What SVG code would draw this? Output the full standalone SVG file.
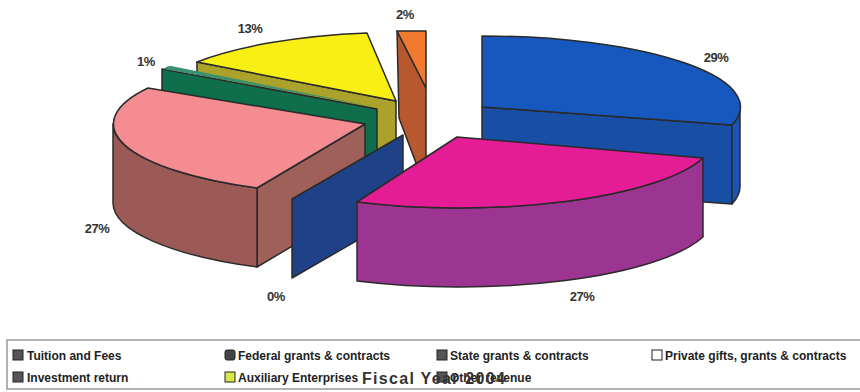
<svg xmlns="http://www.w3.org/2000/svg" width="860" height="392" viewBox="0 0 860 392">
<style>
.s{stroke:#2a2a2a;stroke-width:1.5;stroke-linejoin:round}
.lbl{font-family:"Liberation Sans",Arial,sans-serif;font-weight:bold;font-size:13px;fill:#333;text-anchor:middle;letter-spacing:-0.5px}
.lg{font-family:"Liberation Sans",Arial,sans-serif;font-weight:bold;font-size:12px;fill:#222}
.sw{stroke:#222;stroke-width:1}
</style>
<rect width="860" height="392" fill="#fff"/>
<g id="slice-tuition">
<path class="s" fill="#194ea5" d="M482,107 L732,125 L732,204 L482,186 Z"/>
<path class="s" fill="#1a55b5" d="M740,107 A258,71 0 0 1 732,125 L732,204 A258,71 0 0 0 740,186 Z"/>
<path class="s" fill="#1658be" d="M482,107 L482,36 A258,71 0 0 1 732,125 Z"/>
</g>
<g id="slice-other">
<path class="s" fill="#b8582e" d="M397,31 L426,88 L426,165 L416,163 L399,118 Z"/>
<path class="s" fill="#f07a30" d="M397,31 L426,31 L426,88 Z"/>
</g>
<g id="slice-auxiliary">
<path class="s" fill="#aaa22a" d="M197,62 L396,101 L396,180 L197,141 Z"/>
<path class="s" fill="#f8f014" d="M396,101 L197,62 A252,71 0 0 1 367,33 Z"/>
</g>
<g id="slice-investment">
<path class="s" fill="#0f6e4b" d="M162,69 L377,109 L377,188 L162,148 Z"/>
<path fill="#3a9070" d="M164,69 Q166,66 171,66 L370,106 Z"/>
</g>
<g id="slice-private">
<path class="s" fill="#a0605a" d="M257,188 L365,124 L365,203 L257,267 Z"/>
<path class="s" fill="#9b5a55" d="M113,124 A252,71 0 0 0 257,188 L257,267 A252,71 0 0 1 113,203 Z"/>
<path class="s" fill="#f58c91" d="M365,124 L148,88 A252,71 0 0 0 257,188 Z"/>
</g>
<g id="slice-state">
<path class="s" fill="#1e4187" d="M403,135 L292,199 L292,278 L403,214 Z"/>
</g>
<g id="slice-federal">
<path class="s" fill="#9c3592" d="M703,158 A255,71 0 0 1 357,202 L357,281 A255,71 0 0 0 703,237 Z"/>
<path class="s" fill="#e41c96" d="M457,137 L703,158 A255,71 0 0 1 357,202 Z"/>
</g>
<g id="labels">
<text class="lbl" x="716" y="62">29%</text>
<text class="lbl" x="250" y="33">13%</text>
<text class="lbl" x="146" y="66">1%</text>
<text class="lbl" x="405" y="19">2%</text>
<text class="lbl" x="97" y="233">27%</text>
<text class="lbl" x="276" y="301">0%</text>
<text class="lbl" x="582" y="301">27%</text>
</g>
<g id="legend">
<rect x="7" y="340" width="860" height="49" fill="none" stroke="#999" stroke-width="1.5"/>
<rect class="sw" x="13" y="350" width="10" height="10" fill="#555"/>
<text class="lg" x="27" y="360">Tuition and Fees</text>
<rect class="sw" x="225" y="350" width="10" height="10" rx="2" fill="#444"/>
<text class="lg" x="238" y="360">Federal grants &amp; contracts</text>
<rect class="sw" x="437" y="350" width="10" height="10" fill="#555"/>
<text class="lg" x="450" y="360">State grants &amp; contracts</text>
<rect class="sw" x="652" y="350" width="10" height="10" fill="#fff" stroke-width="1.5"/>
<text class="lg" x="665" y="360">Private gifts, grants &amp; contracts</text>
<rect class="sw" x="13" y="372" width="10" height="10" fill="#555"/>
<text class="lg" x="27" y="382">Investment return</text>
<rect class="sw" x="225" y="372" width="10" height="10" fill="#d8e84a" stroke-width="1.5"/>
<text class="lg" x="238" y="382">Auxiliary Enterprises</text>
<rect class="sw" x="437" y="372" width="10" height="10" fill="#555"/>
<text class="lg" x="450" y="382">Other revenue</text>
<text x="362" y="384" font-family="Liberation Sans, Arial, sans-serif" font-weight="bold" font-size="16" letter-spacing="1.3" fill="#333">Fiscal Year 2004</text>
</g>
</svg>
